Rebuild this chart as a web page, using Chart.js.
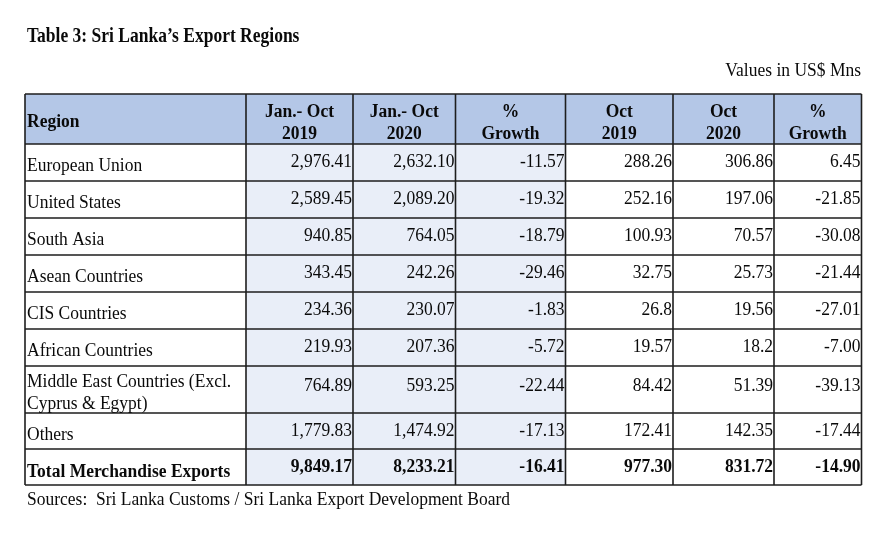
<!DOCTYPE html>
<html>
<head>
<meta charset="utf-8">
<script src="https://cdn.jsdelivr.net/npm/chart.js@4/dist/chart.umd.min.js"></script>
<style>
  body { margin: 0; background: #fff; }
  #wrap { width: 885px; height: 540px; }
</style>
</head>
<body>
<div id="wrap"><canvas id="chart-area" width="885" height="540"></canvas></div>
<script>
// table content
const title = 'Table 3: Sri Lanka\u2019s Export Regions';
const unitNote = 'Values in US$ Mns';
const sourceNote = 'Sources:  Sri Lanka Customs / Sri Lanka Export Development Board';
const headers = ['Region', 'Jan.- Oct\n2019', 'Jan.- Oct\n2020', '%\nGrowth', 'Oct\n2019', 'Oct\n2020', '%\nGrowth'];
const regions = ['European Union', 'United States', 'South Asia', 'Asean Countries', 'CIS Countries',
  'African Countries', 'Middle East Countries (Excl.\nCyprus & Egypt)', 'Others'];
const janOct2019 = ['2,976.41', '2,589.45', '940.85', '343.45', '234.36', '219.93', '764.89', '1,779.83'];
const janOct2020 = ['2,632.10', '2,089.20', '764.05', '242.26', '230.07', '207.36', '593.25', '1,474.92'];
const janOctGrowth = ['-11.57', '-19.32', '-18.79', '-29.46', '-1.83', '-5.72', '-22.44', '-17.13'];
const oct2019 = ['288.26', '252.16', '100.93', '32.75', '26.8', '19.57', '84.42', '172.41'];
const oct2020 = ['306.86', '197.06', '70.57', '25.73', '19.56', '18.2', '51.39', '142.35'];
const octGrowth = ['6.45', '-21.85', '-30.08', '-21.44', '-27.01', '-7.00', '-39.13', '-17.44'];
const totalLabel = 'Total Merchandise Exports';
const totals = ['9,849.17', '8,233.21', '-16.41', '977.30', '831.72', '-14.90'];

// layout (in scale units, which map 1:1 onto the canvas)
const colEdges = [25, 246, 353, 455.5, 565.5, 673, 774, 861.5];
const rowEdges = [94, 144, 181, 218, 255, 292, 329, 366, 413, 449, 485];
const FONT = '"Liberation Serif", "Times New Roman", serif';

// text is a touch taller than plain Liberation Serif in the source
function text(ctx, s, x, y, stretch) {
  ctx.save();
  ctx.translate(x, y);
  ctx.scale(1, stretch || 1.08);
  ctx.fillText(s, 0, 0);
  ctx.restore();
}

const tablePlugin = {
  id: 'tablePlugin',
  afterDraw(chart) {
    const ctx = chart.ctx;
    const xs = chart.scales.x, ys = chart.scales.y;
    const X = v => xs.getPixelForValue(v);
    const Y = v => ys.getPixelForValue(v);
    const cols = [janOct2019, janOct2020, janOctGrowth, oct2019, oct2020, octGrowth];
    ctx.save();

    // fills
    ctx.fillStyle = '#b4c7e7';
    ctx.fillRect(X(colEdges[0]), Y(rowEdges[0]), X(colEdges[7]) - X(colEdges[0]), Y(rowEdges[1]) - Y(rowEdges[0]));
    ctx.fillStyle = '#e9eef8';
    ctx.fillRect(X(colEdges[1]), Y(rowEdges[1]), X(colEdges[4]) - X(colEdges[1]), Y(rowEdges[10]) - Y(rowEdges[1]));

    // grid lines
    ctx.strokeStyle = '#1e1e1e';
    ctx.lineWidth = 1.6;
    ctx.beginPath();
    colEdges.forEach(c => { ctx.moveTo(X(c), Y(rowEdges[0])); ctx.lineTo(X(c), Y(rowEdges[10])); });
    rowEdges.forEach(r => { ctx.moveTo(X(colEdges[0]), Y(r)); ctx.lineTo(X(colEdges[7]), Y(r)); });
    ctx.stroke();

    ctx.fillStyle = '#0a0a0a';
    ctx.textBaseline = 'alphabetic';

    // title + notes
    ctx.font = 'bold 17.5px ' + FONT;
    ctx.textAlign = 'left';
    text(ctx, title, X(27), Y(42), 1.14);
    ctx.font = '17.5px ' + FONT;
    ctx.textAlign = 'right';
    text(ctx, unitNote, X(861), Y(76));
    ctx.textAlign = 'left';
    text(ctx, sourceNote, X(27), Y(505));

    // header
    ctx.font = 'bold 17.5px ' + FONT;
    text(ctx, headers[0], X(27), Y(127));
    ctx.textAlign = 'center';
    for (let c = 1; c < headers.length; c++) {
      const mid = (colEdges[c] + colEdges[c + 1]) / 2;
      headers[c].split('\n').forEach((line, i) => text(ctx, line, X(mid), Y(117 + i * 21.5)));
    }

    // body rows
    ctx.font = '17.5px ' + FONT;
    regions.forEach((name, r) => {
      const top = rowEdges[r + 1];
      const lines = name.split('\n');
      ctx.textAlign = 'left';
      if (lines.length > 1) {
        lines.forEach((line, i) => text(ctx, line, X(27), Y(top + 21 + i * 21.5)));
      } else {
        text(ctx, name, X(27), Y(top + 27));
      }
      ctx.textAlign = 'right';
      const numY = lines.length > 1 ? top + 25 : top + 23;
      cols.forEach((col, c) => text(ctx, col[r], X(colEdges[c + 2] - 1), Y(numY)));
    });

    // total row
    const tTop = rowEdges[9];
    ctx.font = 'bold 17.5px ' + FONT;
    ctx.textAlign = 'left';
    text(ctx, totalLabel, X(27), Y(tTop + 28));
    ctx.textAlign = 'right';
    totals.forEach((v, c) => text(ctx, v, X(colEdges[c + 2] - 1), Y(tTop + 23)));

    ctx.restore();
  }
};

const ctx = document.getElementById('chart-area').getContext('2d');
new Chart(ctx, {
  type: 'scatter',
  data: { datasets: [{ data: [] }] },
  options: {
    responsive: false,
    animation: false,
    layout: { padding: 0 },
    plugins: { legend: { display: false }, tooltip: { enabled: false } },
    scales: {
      x: { type: 'linear', min: 0, max: 885, display: false },
      y: { type: 'linear', min: 0, max: 540, reverse: true, display: false }
    }
  },
  plugins: [tablePlugin]
});
</script>
</body>
</html>
